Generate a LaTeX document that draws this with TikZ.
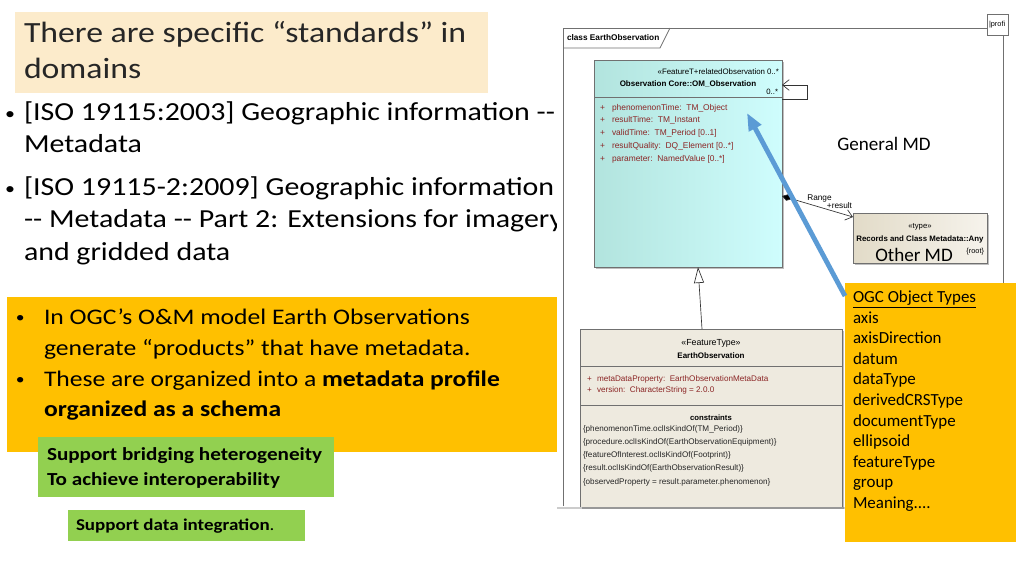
\documentclass[tikz,border=0pt]{standalone}
\usepackage{fontspec}
\setmainfont{Carlito}[Ligatures=TeXOff]
\newfontfamily\wide{Carlito}[FakeStretch=1.15, Ligatures=TeXOff]
\newfontfamily\umlf{Liberation Sans}[Ligatures=TeXOff]
\usetikzlibrary{arrows.meta,calc,fit,shadows}
\definecolor{peach}{HTML}{FCEBCB}
\definecolor{orng}{HTML}{FFC000}
\definecolor{grn}{HTML}{92D050}
\definecolor{umlred}{HTML}{8B2525}
\definecolor{blu}{HTML}{5B9BD5}
\definecolor{tealL}{HTML}{B2E4DE}
\definecolor{cyanR}{HTML}{CFFDFD}
\definecolor{beigeL}{HTML}{E2DBC8}
\definecolor{beigeR}{HTML}{F6F3EC}
\definecolor{eobg}{HTML}{EEEADF}
\definecolor{framegray}{HTML}{707070}
\tikzset{
  area/.style={inner sep=0, outer sep=0},
  txt/.style={inner sep=0, outer sep=0, anchor=base west},
  ttl/.style={txt, font=\wide\fontsize{22}{26}\selectfont, text=black!85},
  bul/.style={txt, font=\wide\fontsize{19.5}{23}\selectfont},
  bdot/.style={txt, font=\wide\fontsize{13}{15}\selectfont},
  obul/.style={txt, font=\wide\fontsize{16.7}{20}\selectfont},
  odot/.style={txt, font=\wide\fontsize{11.5}{14}\selectfont},
  gtxt/.style={txt, font=\wide\bfseries\fontsize{13.8}{16}\selectfont},
  gtxtb/.style={txt, font=\wide\fontsize{12.4}{15}\selectfont},
  ytxt/.style={txt, font=\fontsize{12.7}{15}\selectfont},
  bigl/.style={inner sep=0, anchor=base, font=\fontsize{14.3}{16}\selectfont},
  uml/.style={inner sep=0, outer sep=0, font=\umlf\fontsize{6.3}{8}\selectfont},
  umlb/.style={uml, font=\umlf\bfseries\fontsize{6.0}{8}\selectfont},
  attr/.style={uml, anchor=base west, text=umlred},
  cons/.style={uml, anchor=base west, text=black!85, font=\umlf\fontsize{6.1}{8}\selectfont},
  rolel/.style={uml, anchor=base, font=\umlf\fontsize{6.2}{7}\selectfont},
  cls/.style={draw=framegray, line width=0.6pt, inner sep=0, outer sep=0},
  uline/.style={draw=black!80, line width=0.5pt},
  shad/.style={drop shadow={shadow xshift=1.5pt, shadow yshift=-1.5pt, fill=black, opacity=0.25}},
}
\begin{document}
\begin{tikzpicture}[x=0.75pt,y=-0.75pt]
\useasboundingbox (0,0) rectangle (1024,576);
% ---------- title ----------
\node[area, fill=peach, fit={(15,12)(488,93)}] (titlebg) {};
\node[ttl] (t1) at (24,42.5) {There are specific “standards” in};
\node[ttl] (t2) at (24,78.5) {domains};
% ---------- bullets ----------
\node[bdot] (b1) at (5,119) {•};
\node[bul] (l1) at (24,120) {[ISO 19115:2003] Geographic information --};
\node[bul] (l2) at (24,152) {Metadata};
\node[bdot] (b2) at (5,194) {•};
\node[bul] (l3) at (24,195) {[ISO 19115-2:2009] Geographic information};
\node[bul] (l4) at (24,227) {-- Metadata -- Part 2: Extensions for imagery};
\node[bul] (l5) at (24,260) {and gridded data};
% ---------- UML image background ----------
\fill[white] (557,0) rectangle (1024,508);
\draw[black!20, line width=1.5pt] (557,508) -- (845,508);
% ---------- orange box ----------
\node[area, fill=orng, fit={(7,297)(557,452)}] (obox) {};
\node[odot] (ob1) at (16,322) {•};
\node[obul] (o1) at (44,324) {In OGC’s O\&M model Earth Observations};
\node[obul] (o2) at (44,355) {generate “products” that have metadata.};
\node[odot] (ob2) at (16,384) {•};
\node[obul] (o3) at (44,386) {These are organized into a \textbf{metadata profile}};
\node[obul] (o4) at (44,416) {\textbf{organized as a schema}};
% ---------- green boxes ----------
\node[area, fill=grn, fit={(38,437)(334,497)}] (g1) {};
\node[gtxt] (g1a) at (47,460) {Support bridging heterogeneity};
\node[gtxt] (g1b) at (47,485) {To achieve interoperability};
\node[area, fill=grn, fit={(68,510)(305,541)}] (g2) {};
\node[gtxtb] (g2a) at (76,530) {\textbf{Support data integration}.};
% ---------- UML frame ----------
\draw[framegray, line width=0.6pt] (563,506) -- (563,28) -- (1003,28) -- (1003,290);
\draw[framegray, line width=0.6pt] (563,48) -- (660,48) -- (670,28);
\node[umlb, anchor=base west, font=\umlf\bfseries\fontsize{6.2}{8}\selectfont] (frlbl) at (567,40) {class EarthObservation};
\node[area, draw=framegray, fill=white, fit={(987,14)(1008,35)}] (prof) {};
\node[uml, anchor=base west, font=\umlf\fontsize{5.5}{6}\selectfont] (proft) at (989,26) {|profi};
% ---------- OM_Observation ----------
\node[cls, left color=tealL, right color=cyanR, shad, fit={(594,60)(782,267)}] (om) {};
\draw[framegray, line width=0.6pt] (594,97) -- (782,97);
\node[uml, anchor=base east, font=\umlf\fontsize{5.9}{7}\selectfont] (omst) at (779,74.5) {«FeatureT+relatedObservation 0..*};
\node[umlb, anchor=base] (omnm) at (688,86) {Observation Core::OM\_Observation};
\node[uml, anchor=base east, font=\umlf\fontsize{5.8}{7}\selectfont] (omm) at (778,94) {0..*};
\foreach \y/\t in {110/{phenomenonTime:\ \ TM\_Object},122.5/{resultTime:\ \ TM\_Instant},135/{validTime:\ \ TM\_Period [0..1]},148/{resultQuality:\ \ DQ\_Element [0..*]},161/{parameter:\ \ NamedValue [0..*]}}{
  \node[attr] at (600,\y) {+};
  \node[attr] at (612,\y) {\t};
}
\node[bigl] (gmd) at (884,150) {General MD};
% ---------- Any ----------
\node[cls, left color=beigeL, right color=beigeR, shad, fit={(853,213)(987,263)}] (any) {};
\node[uml, anchor=base, font=\umlf\fontsize{5.8}{7}\selectfont] (anyst) at (920,228.5) {«type»};
\node[umlb, anchor=base, font=\umlf\bfseries\fontsize{5.9}{7}\selectfont] (anynm) at (920,241) {Records and Class Metadata::Any};
\node[uml, anchor=base east, font=\umlf\fontsize{5.5}{7}\selectfont] (anyrt) at (984,253) {\{root\}};
\node[bigl] (omd) at (914,261.5) {Other MD};
% ---------- EarthObservation ----------
\node[area, fill=eobg, shad, fit={(580,329)(842,507)}] (eo) {};
\draw[framegray, line width=0.6pt] (eo.south west) -- (eo.north west) -- (eo.north east) -- (eo.south east);
\draw[framegray, line width=0.6pt] (580,366) -- (842,366);
\draw[framegray, line width=0.6pt] (580,405) -- (842,405);
\node[uml, anchor=base, font=\umlf\fontsize{6.6}{8}\selectfont] (eost) at (711,345) {«FeatureType»};
\node[umlb, anchor=base] (eonm) at (711,358) {EarthObservation};
\node[attr, font=\umlf\fontsize{6.1}{8}\selectfont] at (587,381) {+};
\node[attr, font=\umlf\fontsize{6.1}{8}\selectfont] at (597,381) {metaDataProperty:\ \ EarthObservationMetaData};
\node[attr, font=\umlf\fontsize{6.1}{8}\selectfont] at (587,392) {+};
\node[attr, font=\umlf\fontsize{6.1}{8}\selectfont] at (597,392) {version:\ \ CharacterString = 2.0.0};
\node[umlb, anchor=base, font=\umlf\bfseries\fontsize{5.8}{8}\selectfont] (eocn) at (711,420) {constraints};
\foreach \y/\t in {431/{\{phenomenonTime.oclIsKindOf(TM\_Period)\}},444.3/{\{procedure.oclIsKindOf(EarthObservationEquipment)\}},457.6/{\{featureOfInterest.oclIsKindOf(Footprint)\}},470.9/{\{result.oclIsKindOf(EarthObservationResult)\}},484.2/{\{observedProperty = result.parameter.phenomenon\}}}{
  \node[cons] at (583,\y) {\t};
}
% ---------- UML connectors ----------
\draw[uline, -{Straight Barb[length=5pt,width=8pt]}] ($(om.north east)+(0,39)$) -- ++(25,0) -- ++(0,-14) -- ($(om.north east)+(0,25)$);
\draw[uline, {Diamond[fill=black,length=8pt,width=5pt]}-{Straight Barb[length=5pt,width=8pt]}] ($(om.north east)+(0,136)$) -- ($(any.north west)+(0,4)$);
\node[rolel] (rng) at (819.5,200.5) {Range};
\node[rolel] (res) at (839.5,208.5) {+result};
\draw[uline, -{Triangle[open,length=12pt,width=7.5pt]}] ($(eo.north)+(-9,0)$) -- ($(om.south)+(10,0)$);
% ---------- OGC object types ----------
\node[area, fill=orng, fit={(845,283)(1016,542)}] (ogc) {};
\foreach \i/\t in {0/{\underline{OGC Object Types}},1/axis,2/axisDirection,3/datum,4/dataType,5/derivedCRSType,6/documentType,7/ellipsoid,8/featureType,9/group,10/{Meaning....}}{
  \node[ytxt] at (853,302.5+20.6*\i) {\t};
}
\coordinate (bt) at (747,113);
\draw[blu, line width=3.6pt, -{Triangle[length=13pt,width=10pt]}] ($(ogc.north west)+(0,13)$) -- (bt);
\end{tikzpicture}
\end{document}
